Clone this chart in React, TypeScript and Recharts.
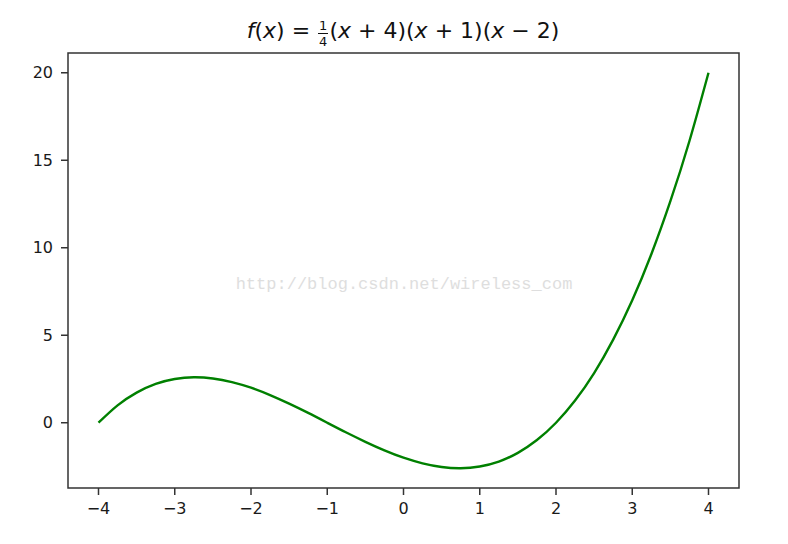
import React from 'react';
import { LineChart, Line, XAxis, YAxis, ReferenceArea } from 'recharts';

// sample points
const xValues = [
  -4, -3.75, -3.5, -3.25, -3, -2.75, -2.5, -2.25, -2, -1.75, -1.5, -1.25, -1, -0.75, -0.5, -0.25,
  0, 0.25, 0.5, 0.75, 1, 1.25, 1.5, 1.75, 2, 2.25, 2.5, 2.75, 3, 3.25, 3.5, 3.75, 4,
];
const yValues = [
  0, 0.99, 1.72, 2.22, 2.5, 2.6, 2.53, 2.32, 2, 1.58, 1.09, 0.56, 0, -0.56, -1.09, -1.58,
  -2, -2.32, -2.53, -2.6, -2.5, -2.22, -1.72, -0.99, 0, 1.27, 2.84, 4.75, 7, 9.63, 12.66, 16.1, 20,
];
const xTicks = [-4, -3, -2, -1, 0, 1, 2, 3, 4];
const yTicks = [0, 5, 10, 15, 20];
const xDomain = [-4.4, 4.4];
const yDomain = [-3.73, 21.13];

const data = xValues.map((x, i) => ({ x, y: yValues[i] }));

const fmt = (v: number) => String(v).replace('-', '\u2212');
const tickStyle = { fill: '#1a1a1a', fontSize: 16, fontFamily: 'DejaVu Sans' };
const mathFont = 'DejaVu Sans';

const Title: React.FC = () => (
  <div
    style={{
      position: 'absolute',
      left: 0,
      width: 806,
      top: 16,
      textAlign: 'center',
      fontFamily: mathFont,
      fontSize: 22,
      color: '#111',
      whiteSpace: 'nowrap',
      lineHeight: '28px',
    }}
  >
    <span style={{ fontStyle: 'italic' }}>f</span>(<span style={{ fontStyle: 'italic' }}>x</span>)
    {' = '}
    <span
      style={{
        display: 'inline-flex',
        flexDirection: 'column',
        alignItems: 'center',
        verticalAlign: 'middle',
        fontSize: 13,
        lineHeight: '15px',
        margin: '0 1px',
        position: 'relative',
        top: 2,
      }}
    >
      <span style={{ borderBottom: '1px solid #111', padding: '0 1px' }}>1</span>
      <span>4</span>
    </span>
    (<span style={{ fontStyle: 'italic' }}>x</span> + 4)(<span style={{ fontStyle: 'italic' }}>x</span> + 1)(
    <span style={{ fontStyle: 'italic' }}>x</span> {'\u2212'} 2)
  </div>
);

const App: React.FC = () => {
  return (
    <div style={{ position: 'absolute', left: 0, top: 0, width: 788, height: 544, background: '#fff' }}>
      <LineChart width={788} height={544} data={data} margin={{ top: 53, right: 49, left: 8, bottom: 26 }}>
        <XAxis
          dataKey="x"
          type="number"
          domain={xDomain}
          ticks={xTicks}
          tickFormatter={fmt}
          tick={tickStyle}
          tickSize={7}
          tickMargin={8}
          axisLine={false}
          tickLine={{ stroke: '#333', strokeWidth: 1.5 }}
          height={30}
          allowDataOverflow
        />
        <YAxis
          type="number"
          domain={yDomain}
          ticks={yTicks}
          tickFormatter={fmt}
          tick={tickStyle}
          tickSize={7}
          tickMargin={8}
          axisLine={false}
          tickLine={{ stroke: '#333', strokeWidth: 1.5 }}
          width={60}
          allowDataOverflow
        />
        <ReferenceArea
          x1={xDomain[0]}
          x2={xDomain[1]}
          y1={yDomain[0]}
          y2={yDomain[1]}
          fill="none"
          stroke="#333"
          strokeWidth={1.5}
        />
        <text
          x={404}
          y={289}
          textAnchor="middle"
          fill="#dedede"
          style={{ fontFamily: 'Liberation Mono', fontSize: 17 }}
        >
          http://blog.csdn.net/wireless_com
        </text>
        <Line
          type="natural"
          dataKey="y"
          stroke="#008000"
          strokeWidth={2.4}
          dot={false}
          isAnimationActive={false}
        />
      </LineChart>
      <Title />
    </div>
  );
};

export default App;
